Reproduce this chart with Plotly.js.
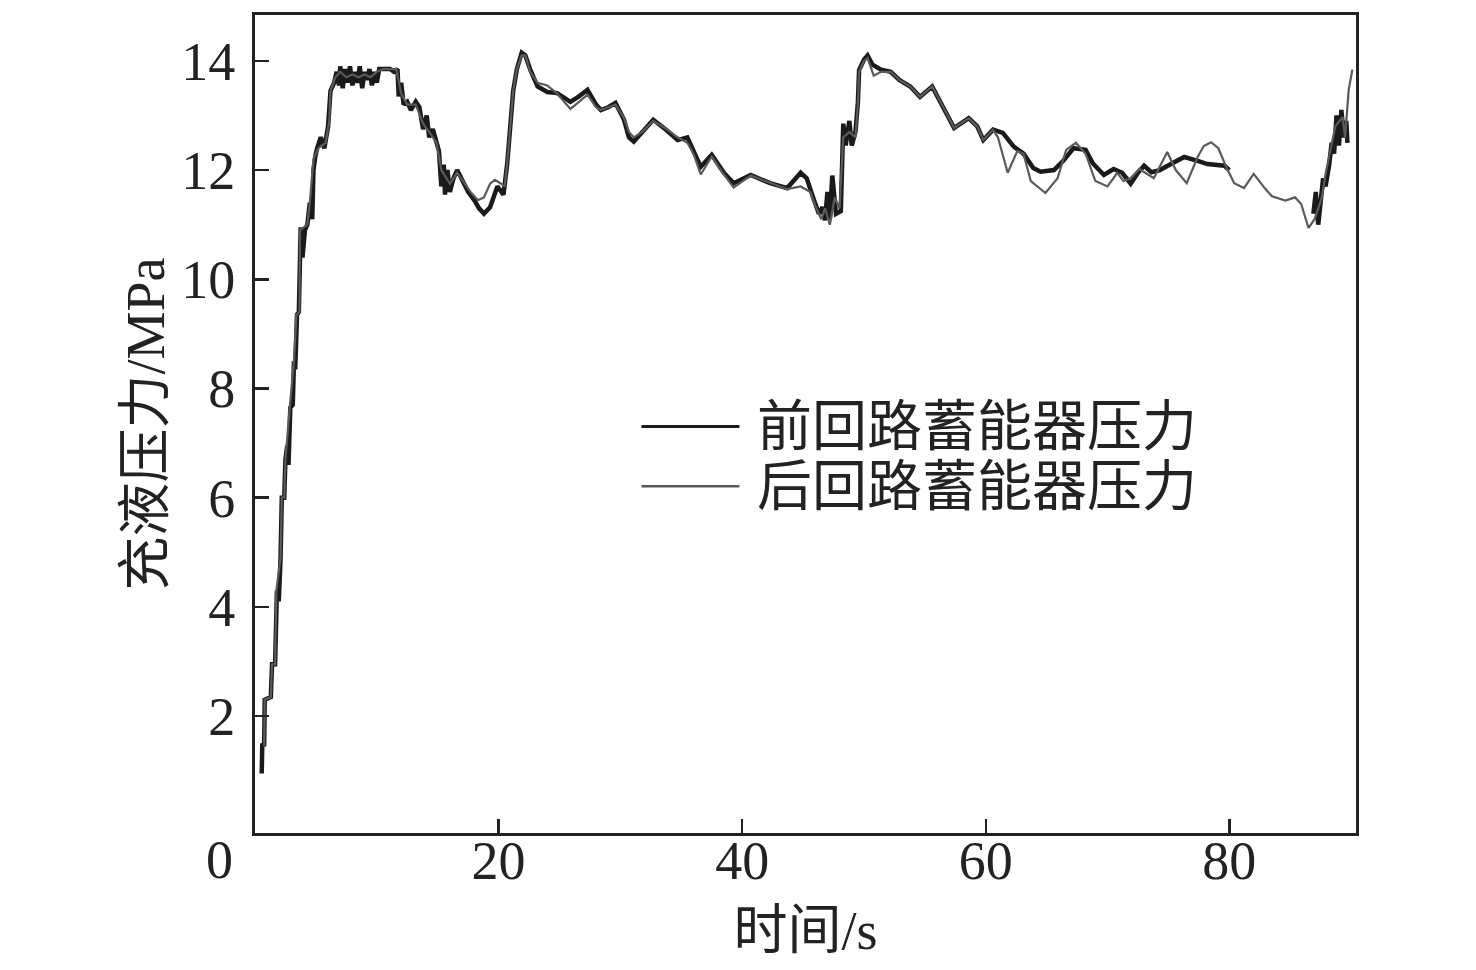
<!DOCTYPE html>
<html>
<head>
<meta charset="utf-8">
<script src="https://cdn.plot.ly/plotly-3.0.1.min.js"></script>
<style>
  body { margin: 0; background: #fff; }
  #chart { width: 1476px; height: 970px; }
</style>
</head>
<body>
<div id="chart"></div>
<script>
// 前回路蓄能器压力 (black)
var tFront = [0.55, 0.6, 0.75, 0.8, 1.3, 1.4, 1.65, 1.7, 1.8, 1.95, 2.1, 2.2, 2.4, 2.5, 2.65, 2.75, 2.9, 3.1, 3.2, 3.3,
  3.45, 3.6, 3.65, 3.75, 3.9, 4.1, 4.3, 4.5, 4.7, 4.8, 4.95, 5.1, 5.4, 5.7, 6.0, 6.2, 6.5, 6.7, 6.9, 7.0,
  7.2, 7.4, 7.6, 7.8, 8.0, 8.2, 8.4, 8.6, 8.8, 9.0, 9.2, 9.4, 9.6, 9.8, 10.0, 10.2, 10.5, 10.8, 11.1, 11.4,
  11.7, 11.8, 12.0, 12.2, 12.5, 12.8, 13.2, 13.5, 13.8, 14.1, 14.3, 14.6, 14.9, 15.1, 15.3, 15.5, 15.6, 15.8, 16.0, 16.3,
  16.6, 17.1, 17.5, 18.0, 18.4, 18.8, 19.3, 19.9, 20.4, 20.7, 20.9, 21.2, 21.5, 21.9, 22.2, 22.6, 23.2, 24.0, 24.8, 25.9,
  26.6, 27.3, 28.0, 28.4, 29.0, 29.6, 30.3, 30.7, 31.1, 31.8, 32.7, 33.8, 34.7, 35.5, 36.0, 36.6, 37.5, 38.5, 39.3, 40.7,
  42.3, 43.7, 44.8, 45.3, 45.9, 46.3, 46.6, 46.8, 47.0, 47.2, 47.4, 47.7, 48.1, 48.3, 48.5, 48.8, 49.0, 49.3, 49.5, 49.6,
  50.0, 50.3, 50.7, 51.4, 52.2, 52.9, 53.8, 54.6, 55.6, 56.5, 57.4, 58.6, 59.3, 59.8, 60.6, 61.4, 62.3, 63.1, 63.9, 64.5,
  65.6, 66.4, 67.2, 68.2, 68.8, 69.7, 70.5, 71.2, 71.9, 72.5, 73.0, 73.6, 74.3, 75.2, 76.3, 77.4, 78.2, 79.6, 80.0, 83.0,
  86.9, 87.1, 87.3, 87.5, 87.7, 87.9, 88.2, 88.4, 88.6, 88.8, 89.0, 89.2, 89.4, 89.6, 89.7];
var pFront = [0.95, 1.5, 1.45, 2.3, 2.35, 2.95, 2.95, 4.0, 4.3, 4.1, 4.9, 6.0, 6.0, 6.7, 6.95, 6.6, 7.65, 7.7, 8.5, 8.35,
  9.35, 9.4, 10.5, 10.95, 10.4, 10.9, 11.0, 11.4, 11.1, 12.0, 12.25, 12.4, 12.6, 12.4, 12.8, 13.45, 13.6, 13.8, 13.55, 13.9,
  13.5, 13.85, 13.6, 13.9, 13.55, 13.8, 13.6, 13.9, 13.5, 13.8, 13.65, 13.85, 13.55, 13.8, 13.6, 13.85, 13.85, 13.85, 13.85, 13.8,
  13.85, 13.35, 13.6, 13.2, 13.25, 13.1, 13.25, 13.15, 12.75, 13.0, 12.6, 12.75, 12.5, 12.35, 11.7, 12.1, 11.55, 12.0, 11.6, 11.85,
  12.0, 11.75, 11.6, 11.45, 11.3, 11.2, 11.32, 11.7, 11.55, 12.1, 12.7, 13.45, 13.85, 14.15, 14.1, 13.84, 13.53, 13.43, 13.41, 13.25,
  13.35, 13.47, 13.2, 13.1, 13.15, 13.23, 12.92, 12.6, 12.52, 12.7, 12.92, 12.73, 12.55, 12.6, 12.37, 12.06, 12.28, 11.95, 11.76, 11.91,
  11.76, 11.67, 11.95, 11.85, 11.45, 11.2, 11.32, 11.08, 11.6, 11.1, 11.9, 11.2, 11.25, 12.85, 12.45, 12.9, 12.45, 12.7, 13.23, 13.83,
  14.02, 14.1, 13.93, 13.84, 13.8, 13.65, 13.53, 13.34, 13.53, 13.16, 12.77, 12.95, 12.8, 12.55, 12.74, 12.68, 12.43, 12.3, 12.04, 11.97,
  12.0, 12.18, 12.4, 12.37, 12.12, 11.91, 12.02, 11.95, 11.75, 11.95, 12.08, 11.96, 12.0, 12.11, 12.24, 12.17, 12.11, 12.08, 12.0, null,
  11.2, 11.6, 11.0, 11.5, 11.85, 11.7, 12.1, 12.5, 12.3, 13.0, 12.45, 13.1, 12.6, 12.9, 12.5];

// 后回路蓄能器压力 (grey)
var tRear = [0.75, 0.8, 1.3, 1.4, 1.65, 1.75, 2.1, 2.2, 2.4, 2.5, 2.85, 3.2, 3.4, 3.65, 3.7, 4.3, 4.5, 4.8, 5.2, 5.8,
  6.1, 6.2, 6.6, 7.0, 7.5, 8.0, 8.5, 9.0, 9.5, 10.0, 10.5, 11.0, 11.6, 12.0, 12.5, 13.2, 13.8, 14.3, 14.9, 15.3,
  15.6, 16.0, 16.6, 17.1, 17.7, 18.3, 18.8, 19.3, 19.7, 20.2, 20.5, 20.7, 20.9, 21.2, 21.5, 21.9, 22.2, 22.6, 23.2, 24.0,
  24.8, 25.9, 26.6, 27.3, 28.0, 28.4, 29.6, 30.3, 30.7, 31.1, 31.8, 32.7, 33.8, 34.7, 35.5, 36.0, 36.6, 37.5, 38.5, 39.3,
  40.7, 42.3, 43.7, 44.8, 45.6, 46.0, 46.5, 46.8, 47.2, 47.6, 48.0, 48.3, 48.8, 49.3, 49.5, 49.6, 50.0, 50.3, 50.8, 51.4,
  52.2, 52.9, 53.8, 54.6, 55.6, 56.5, 57.4, 58.6, 59.3, 59.8, 60.6, 61.0, 61.8, 62.6, 63.1, 63.7, 64.9, 65.9, 66.6, 67.4,
  68.2, 69.0, 70.0, 70.8, 71.3, 71.9, 72.6, 73.8, 74.9, 75.6, 76.5, 77.4, 77.9, 78.5, 79.1, 79.7, 80.4, 81.2, 82.0, 82.9,
  83.5, 84.6, 85.4, 85.9, 86.5, 87.0, 87.6, 87.9, 88.5, 88.7, 89.3, 89.5, 89.8, 90.1];
var pRear = [1.45, 2.3, 2.35, 2.95, 2.95, 4.3, 4.9, 6.0, 6.0, 6.7, 7.65, 8.5, 9.35, 9.4, 10.9, 11.0, 11.4, 12.2, 12.4, 12.5,
  12.9, 13.45, 13.7, 13.8, 13.7, 13.75, 13.7, 13.75, 13.7, 13.8, 13.85, 13.85, 13.85, 13.4, 13.2, 13.2, 12.85, 12.7, 12.5, 12.0,
  11.9, 11.75, 11.95, 11.8, 11.6, 11.45, 11.5, 11.75, 11.82, 11.75, 11.7, 12.1, 12.7, 13.45, 13.85, 14.1, 14.1, 13.8, 13.6, 13.55,
  13.4, 13.12, 13.25, 13.38, 13.15, 13.1, 13.2, 12.95, 12.7, 12.6, 12.7, 12.9, 12.75, 12.6, 12.5, 12.3, 11.92, 12.25, 11.92, 11.68,
  11.9, 11.76, 11.65, 11.7, 11.6, 11.35, 11.1, 11.3, 11.0, 11.5, 11.3, 12.6, 12.7, 12.6, 13.2, 13.8, 14.0, 14.05, 13.73, 13.8,
  13.8, 13.65, 13.53, 13.34, 13.53, 13.16, 12.77, 12.95, 12.8, 12.55, 12.74, 12.6, 11.95, 12.35, 12.3, 11.8, 11.58, 11.85, 12.37, 12.5,
  12.3, 11.8, 11.7, 11.95, 11.8, 11.85, 12.02, 11.85, 12.33, 12.0, 11.76, 12.24, 12.44, 12.51, 12.4, 12.08, 11.76, 11.67, 11.93, 11.67,
  11.52, 11.44, 11.5, 11.38, 10.94, 11.1, 11.5, 11.93, 12.54, 12.8, 12.97, 12.6, 13.47, 13.84];

var xTicks = [20, 40, 60, 80];
var yTicks = [2, 4, 6, 8, 10, 12, 14];
var legendNames = ['前回路蓄能器压力', '后回路蓄能器压力'];

var fontFamily = '"Liberation Serif", "Noto Sans CJK SC", serif';
var textFont = { family: fontFamily, size: 54, color: '#222' };
var legendFont = { family: fontFamily, size: 55, color: '#222' };

var data = [
  {
    x: tFront, y: pFront, type: 'scatter', mode: 'lines',
    name: legendNames[0], connectgaps: false,
    line: { color: '#1a1a1a', width: 4.5 }
  },
  {
    x: tRear, y: pRear, type: 'scatter', mode: 'lines',
    name: legendNames[1],
    line: { color: '#5a5a5a', width: 2.2 }
  }
];

var layout = {
  width: 1476,
  height: 970,
  margin: { l: 255, r: 120, t: 15, b: 137 },
  paper_bgcolor: '#fff',
  plot_bgcolor: '#fff',
  showlegend: false,
  font: textFont,
  xaxis: {
    range: [0, 90.4],
    tickvals: xTicks,
    ticks: 'inside',
    ticklen: 14,
    tickwidth: 2.5,
    tickcolor: '#222',
    ticklabelstandoff: -22,
    showgrid: false,
    zeroline: false,
    showline: true,
    linecolor: '#222',
    linewidth: 3,
    mirror: true,
    tickfont: textFont,
    title: { text: '时间/s', font: textFont, standoff: 22 }
  },
  yaxis: {
    range: [-0.14, 14.84],
    tickvals: yTicks,
    ticks: 'inside',
    ticklen: 14,
    tickwidth: 2.5,
    tickcolor: '#222',
    ticklabelstandoff: 6,
    showgrid: false,
    zeroline: false,
    showline: true,
    linecolor: '#222',
    linewidth: 3,
    mirror: true,
    tickfont: textFont,
    title: { text: '充液压力/MPa', font: textFont, standoff: 0 }
  },
  annotations: [
    { xref: 'paper', yref: 'paper', x: -0.032, y: 0.006, text: '0', showarrow: false,
      xanchor: 'center', yanchor: 'top', font: textFont },
    { xref: 'paper', yref: 'paper', x: 0.454, y: 0.497, text: legendNames[0], showarrow: false,
      xanchor: 'left', yanchor: 'middle', font: legendFont },
    { xref: 'paper', yref: 'paper', x: 0.454, y: 0.424, text: legendNames[1], showarrow: false,
      xanchor: 'left', yanchor: 'middle', font: legendFont }
  ],
  shapes: [
    { type: 'line', xref: 'paper', yref: 'paper', x0: 0.351, x1: 0.44, y0: 0.497, y1: 0.497,
      line: { color: '#1a1a1a', width: 3 } },
    { type: 'line', xref: 'paper', yref: 'paper', x0: 0.351, x1: 0.44, y0: 0.424, y1: 0.424,
      line: { color: '#5a5a5a', width: 2.5 } }
  ]
};

Plotly.newPlot('chart', data, layout, { staticPlot: true, displayModeBar: false });
</script>
</body>
</html>
